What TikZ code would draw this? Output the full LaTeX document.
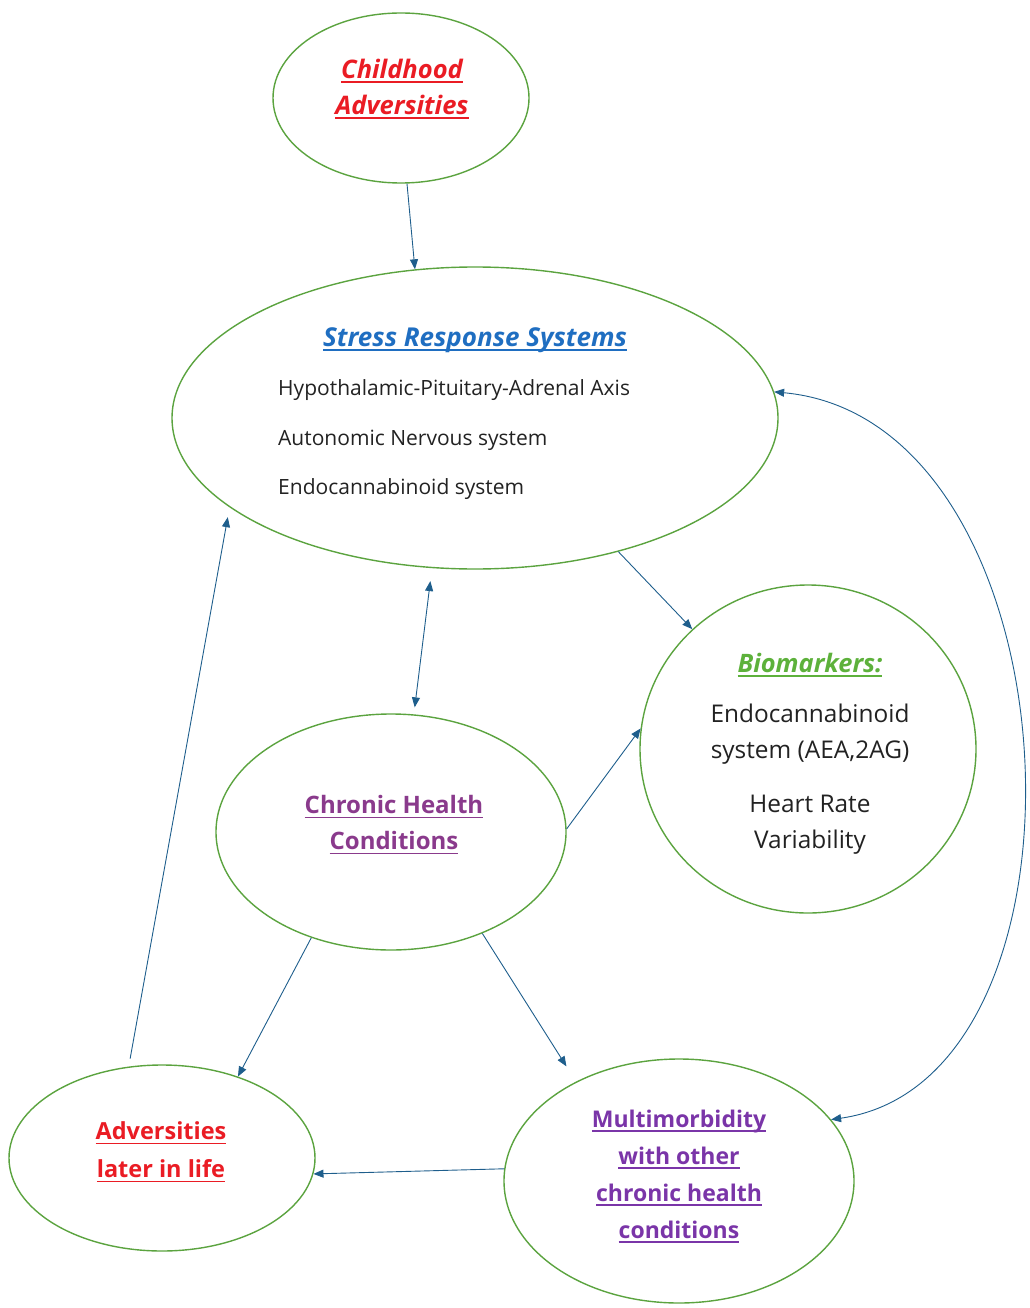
\documentclass[tikz,border=0pt]{standalone}
\usepackage{fontspec}
\setmainfont{Open Sans}[Ligatures=NoCommon]
\newcommand{\myul}[1]{\setbox0\hbox{#1}\rlap{\rule[-4.5pt]{\wd0}{1.6pt}}\box0}
\usetikzlibrary{shapes.geometric,arrows.meta}
\definecolor{egreen}{HTML}{5BA33F}
\definecolor{ared}{HTML}{EA1C24}
\definecolor{tblue}{HTML}{1F6EC1}
\definecolor{tgreen}{HTML}{5DB13B}
\definecolor{cpurple}{HTML}{8A3A8C}
\definecolor{mpurple}{HTML}{7A35A8}
\definecolor{conn}{HTML}{1E5E8C}
\definecolor{tblack}{HTML}{222222}
\tikzset{
  bubble/.style={ellipse,draw=egreen,line width=1.4pt,inner sep=0pt},
  conarrow/.style={draw=conn,line width=0.9pt,-{Triangle[length=10pt,width=8pt]}},
  conboth/.style={draw=conn,line width=0.9pt,{Triangle[length=10pt,width=8pt]}-{Triangle[length=10pt,width=8pt]}},
  lbl/.style={inner sep=0pt,align=center}
}
\begin{document}
\begin{tikzpicture}[x=1pt,y=-1pt]
\useasboundingbox (0,0) rectangle (1029,1308);
% ellipses
\node[bubble,minimum width=256pt,minimum height=170pt] (child) at (401,98) {};
\node[bubble,minimum width=606pt,minimum height=302pt] (stress) at (475,418) {};
\node[bubble,minimum width=336pt,minimum height=328pt] (bio) at (808,749) {};
\node[bubble,minimum width=350pt,minimum height=236pt] (chronic) at (391,832) {};
\node[bubble,minimum width=306pt,minimum height=186pt] (later) at (162,1158) {};
\node[bubble,minimum width=350pt,minimum height=244pt] (multi) at (679,1181) {};
% texts
\node[lbl,text=ared,font=\fontsize{25.5}{36}\selectfont\bfseries\itshape] (tchild) at (402,89) {\myul{Childhood}\\\myul{Adversities}};
\node[lbl,text=tblue,font=\fontsize{26}{26}\selectfont\bfseries\itshape] (tstress) at (475,340) {\myul{Stress Response Systems}};
\node[inner sep=0pt,align=left,anchor=west,text=tblack,font=\fontsize{21}{49.5}\selectfont] (tstressitems) at (278,440) {Hypothalamic-Pituitary-Adrenal Axis\\Autonomic Nervous system\\Endocannabinoid system};
\node[lbl,text=tgreen,font=\fontsize{25.4}{26}\selectfont\bfseries\itshape] (tbio) at (810,665) {\myul{Biomarkers:}};
\node[lbl,text=tblack,font=\fontsize{24.4}{36}\selectfont] (tbio1) at (810,734) {Endocannabinoid\\system (AEA,2AG)};
\node[lbl,text=tblack,font=\fontsize{24.4}{36}\selectfont] (tbio2) at (810,825) {Heart Rate\\Variability};
\node[lbl,text=cpurple,font=\fontsize{24}{36}\selectfont\bfseries] (tchronic) at (394,825) {\myul{Chronic Health}\\\myul{Conditions}};
\node[lbl,text=ared,font=\fontsize{23.5}{38}\selectfont\bfseries] (tlater) at (161,1152) {\myul{Adversities}\\\myul{later in life}};
\node[lbl,text=mpurple,font=\fontsize{23}{37}\selectfont\bfseries] (tmulti) at (679,1176) {\myul{Multimorbidity}\\\myul{with other}\\\myul{chronic health}\\\myul{conditions}};
% connectors
\draw[conarrow] (child.-86) -- (stress.112);
\draw[conarrow,shorten <=8pt,shorten >=10pt] (later.110) -- (stress.200);
\draw[conboth,shorten <=13pt,shorten >=7pt] (stress.254) -- (chronic.79);
\draw[conarrow] (stress.-43) -- (bio.134);
\draw[conarrow] (chronic.1) -- (bio.173);
\draw[conarrow] (chronic.233) -- (later.47);
\draw[conarrow,shorten >=18pt] (chronic.-48) -- (multi.136);
\draw[conarrow] (multi.176) -- (later.-6);
\draw[conboth] (stress.5) .. controls (1080,420) and (1110,1080) .. (multi.22);
\end{tikzpicture}
\end{document}
